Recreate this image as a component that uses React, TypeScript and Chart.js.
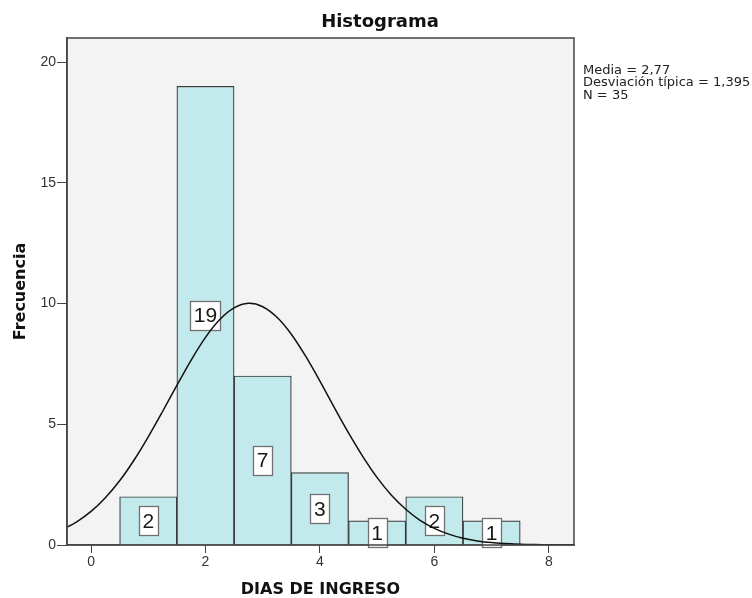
import React, { useEffect, useRef } from "react";
import { Chart, registerables } from "chart.js";

Chart.register(...registerables);

const binCenters = [1, 2, 3, 4, 5, 6, 7];
const frequencies = [2, 19, 7, 3, 1, 2, 1];
const curveX = [-0.5, -0.25, 0, 0.25, 0.5, 0.75, 1, 1.25, 1.5, 1.75, 2, 2.25, 2.5, 2.75, 3, 3.25, 3.5, 3.75, 4, 4.25, 4.5, 4.75, 5, 5.25, 5.5, 5.75, 6, 6.25, 6.5, 6.75, 7, 7.25, 7.5, 7.75, 8, 8.25, 8.5];
const curveY = [0.64, 0.96, 1.39, 1.96, 2.66, 3.51, 4.48, 5.53, 6.61, 7.66, 8.6, 9.34, 9.82, 10.01, 9.87, 9.43, 8.73, 7.82, 6.79, 5.7, 4.64, 3.66, 2.79, 2.06, 1.48, 1.02, 0.69, 0.45, 0.28, 0.17, 0.1, 0.06, 0.03, 0.02, 0.01, 0.0, 0.0];
const xTicks = [0, 2, 4, 6, 8];
const yTicks = [0, 5, 10, 15, 20];
const chartTitle = "Histograma";
const statsLines = ["Media = 2,77", "Desviación típica = 1,395", "N = 35"];

const FONT = '"DejaVu Sans", sans-serif';
const TICK_FONT = '"Liberation Sans", Arial, sans-serif';

const decorPlugin = {
  id: "decor",
  beforeDraw(chart: any) {
    const { ctx, chartArea: a } = chart;
    ctx.save();
    ctx.fillStyle = "#ffffff";
    ctx.fillRect(0, 0, chart.width, chart.height);
    ctx.fillStyle = "#f3f3f3";
    ctx.fillRect(a.left, a.top, a.right - a.left, a.bottom - a.top);
    ctx.restore();
  },
  afterDatasetDraw(chart: any, args: any) {
    if (args.meta.type !== "bar") return;
    const { ctx } = chart;
    const xs = chart.scales.x;
    const ys = chart.scales.y;
    ctx.save();
    ctx.font = `21px ${TICK_FONT}`;
    ctx.textAlign = "center";
    ctx.textBaseline = "middle";
    binCenters.forEach((c, i) => {
      const v = frequencies[i];
      const px = xs.getPixelForValue(c);
      const py = ys.getPixelForValue(v / 2);
      const t = String(v);
      const w = Math.round(ctx.measureText(t).width + 7);
      const h = 29;
      const bx = Math.round(px - w / 2) + 0.5;
      const by = Math.round(py - h / 2) + 0.5;
      ctx.fillStyle = "#ffffff";
      ctx.fillRect(bx, by, w, h);
      ctx.strokeStyle = "#707070";
      ctx.lineWidth = 1.3;
      ctx.strokeRect(bx, by, w, h);
      ctx.fillStyle = "#1a1a1a";
      ctx.fillText(t, px, py + 1);
    });
    ctx.restore();
  },
  afterDraw(chart: any) {
    const { ctx, chartArea: a } = chart;
    ctx.save();
    ctx.strokeStyle = "#444444";
    ctx.lineWidth = 1.5;
    ctx.strokeRect(a.left, a.top, a.right - a.left, a.bottom - a.top);
    ctx.fillStyle = "#111111";
    ctx.font = `bold 18px ${FONT}`;
    ctx.textAlign = "center";
    ctx.textBaseline = "middle";
    ctx.fillText(chartTitle, chart.width / 2 + 4, 22);
    ctx.fillStyle = "#222222";
    ctx.font = `13px ${FONT}`;
    ctx.textAlign = "left";
    ctx.textBaseline = "top";
    statsLines.forEach((s, i) => {
      ctx.fillText(s, a.right + 9, 64 + i * 12.5);
    });
    ctx.restore();
  },
};

export default function App() {
  const ref = useRef<HTMLCanvasElement | null>(null);
  useEffect(() => {
    if (!ref.current) return;
    const chart = new Chart(ref.current, {
      type: "bar",
      data: {
        datasets: [
          {
            type: "line",
            data: curveX.map((x, i) => ({ x, y: curveY[i] })),
            borderColor: "#111111",
            borderWidth: 1.5,
            pointRadius: 0,
            tension: 0.3,
            fill: false,
            order: 0,
          } as any,
          {
            type: "bar",
            data: binCenters.map((x, i) => ({ x, y: frequencies[i] })),
            backgroundColor: "#c2eaec",
            borderColor: "#3a3a3a",
            borderWidth: 1.2,
            barPercentage: 1,
            categoryPercentage: 1,
            order: 1,
          } as any,
        ],
      },
      options: {
        animation: false,
        responsive: false,
        maintainAspectRatio: false,
        layout: { padding: { left: 0, right: 178, top: 38, bottom: 0 } },
        plugins: {
          legend: { display: false },
          tooltip: { enabled: false },
          title: { display: false },
        },
        scales: {
          x: {
            type: "linear",
            min: -0.42,
            max: 8.44,
            offset: false,
            afterBuildTicks: (s: any) => {
              s.ticks = xTicks.map((v) => ({ value: v }));
            },
            afterFit: (s: any) => {
              s.height = 53;
            },
            ticks: {
              color: "#333333",
              font: { family: TICK_FONT, size: 14 },
              padding: 1,
              maxRotation: 0,
              autoSkip: false,
            },
            grid: { display: true, offset: false, drawOnChartArea: false, drawTicks: true, tickLength: 8, color: "#444444" },
            border: { display: true, color: "#444444", width: 1.5 },
            title: {
              display: true,
              text: "DIAS DE INGRESO",
              color: "#111111",
              font: { family: FONT, size: 16, weight: "bold", lineHeight: 1 },
              padding: { top: 0, bottom: 0 },
            },
          },
          y: {
            type: "linear",
            min: 0,
            max: 21,
            afterBuildTicks: (s: any) => {
              s.ticks = yTicks.map((v) => ({ value: v }));
            },
            afterFit: (s: any) => {
              s.width = 67;
            },
            ticks: {
              color: "#333333",
              font: { family: TICK_FONT, size: 14 },
              padding: 1,
              autoSkip: false,
            },
            grid: { display: true, offset: false, drawOnChartArea: false, drawTicks: true, tickLength: 10, color: "#444444" },
            border: { display: true, color: "#444444", width: 1.5 },
            title: {
              display: true,
              text: "Frecuencia",
              color: "#111111",
              font: { family: FONT, size: 16, weight: "bold", lineHeight: 1 },
              padding: { top: 13, bottom: 0 },
            },
          },
        },
      } as any,
      plugins: [decorPlugin],
    });
    return () => chart.destroy();
  }, []);
  return (
    <div style={{ position: "fixed", left: 0, top: 0, width: 752, height: 598, background: "#fff" }}>
      <canvas ref={ref} width={752} height={598} style={{ display: "block" }} />
    </div>
  );
}
